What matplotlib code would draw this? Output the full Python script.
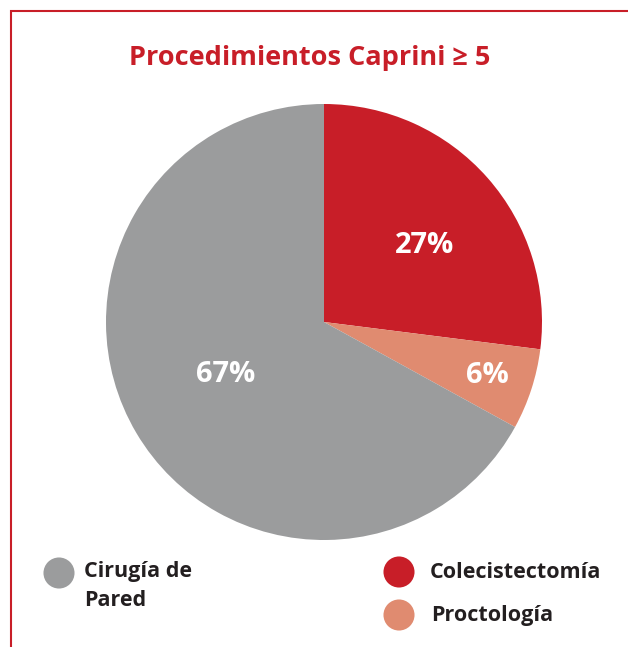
import matplotlib
matplotlib.use("Agg")
import matplotlib.pyplot as plt
import numpy as np

categories = ["Colecistectomía", "Proctología", "Cirugía de\nPared"]
values = [27, 6, 67]
colors = ["#c81e28", "#e08b70", "#9b9c9d"]
label_dist = [0.59, 0.785, 0.505]
label_rot = [-3.0, 1.0, -3.6]

W, H = 628, 647
fig = plt.figure(figsize=(W / 100, H / 100), dpi=100)
ax = fig.add_axes([0, 0, 1, 1])

font = "Open Sans"

cx, cy, r = 324, H - 322, 218
wedges, _ = ax.pie(values, colors=colors, startangle=90, counterclock=False,
                   center=(cx, cy), radius=r, frame=True,
                   wedgeprops=dict(linewidth=0))
ax.set_xlim(0, W)
ax.set_ylim(0, H)
ax.set_aspect("equal")
ax.axis("off")

# frame (left and top edges)
ax.plot([10.5, 10.5, W], [-5, H - 11, H - 11], color="#c81e28", lw=1.5,
        solid_joinstyle="miter", clip_on=False)

for w, v, d, rot in zip(wedges, values, label_dist, label_rot):
    ang = np.deg2rad((w.theta1 + w.theta2) / 2 + rot)
    ax.text(cx + d * r * np.cos(ang), cy + d * r * np.sin(ang) - 10.5, f"{v}%",
            color="white", fontsize=21, fontweight="bold", family=font,
            ha="center", va="baseline")

ax.text(W / 2 - 4, H - 58, "Procedimientos Caprini ≥ 5", color="#c81e28",
        fontsize=19.5, fontweight="bold", family=font, ha="center", va="center")

# legend
leg = [(59, 573, 2), (399, 572, 0), (399, 615, 1)]
for x, y, i in leg:
    ax.scatter([x], [H - y], s=500, color=colors[i], edgecolors="none")
tc = "#231f20"
ax.text(84, H - 571, categories[2].split("\n")[0], fontsize=15.5, fontweight="bold",
        family=font, color=tc, ha="left", va="center")
ax.text(84, H - 601, categories[2].split("\n")[1], fontsize=15.5, fontweight="bold",
        family=font, color=tc, ha="left", va="center")
ax.text(430, H - 572, categories[0], fontsize=15.5, fontweight="bold",
        family=font, color=tc, ha="left", va="center")
ax.text(431, H - 616, categories[1], fontsize=15.5, fontweight="bold",
        family=font, color=tc, ha="left", va="center")

fig.savefig("out.png", dpi=100)
